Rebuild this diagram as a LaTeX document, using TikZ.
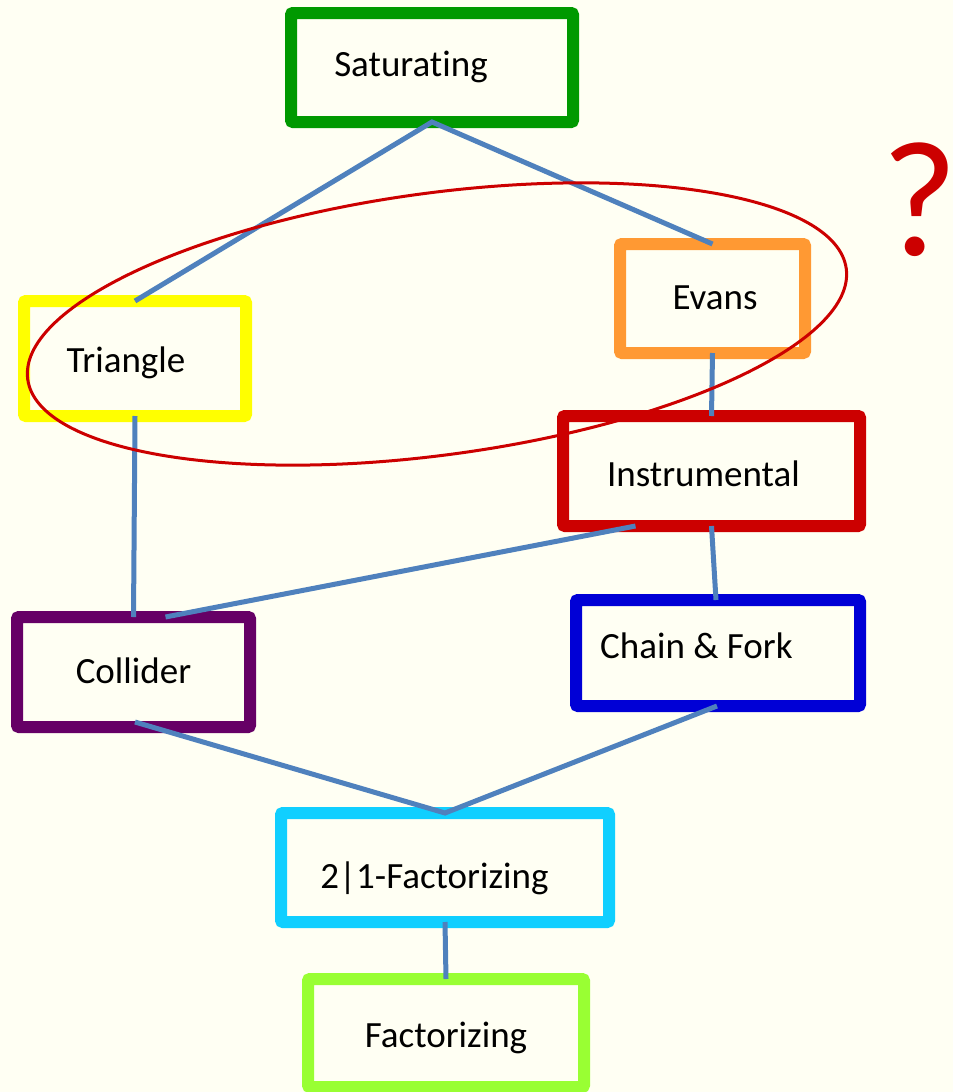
\documentclass[tikz,border=0pt]{standalone}
\usepackage{fontspec}
\setmainfont{Carlito}[Ligatures={NoCommon}]
\usetikzlibrary{calc}

\definecolor{paper}{RGB}{255,255,243}
\definecolor{satgreen}{RGB}{0,153,0}
\definecolor{triyellow}{RGB}{255,255,0}
\definecolor{evorange}{RGB}{255,153,51}
\definecolor{insred}{RGB}{204,0,0}
\definecolor{cfblue}{RGB}{0,0,214}
\definecolor{colpurple}{RGB}{102,0,102}
\definecolor{twocyan}{RGB}{16,207,255}
\definecolor{faclime}{RGB}{153,255,51}
\definecolor{linkblue}{RGB}{79,129,189}
\definecolor{ringred}{RGB}{204,0,0}

\begin{document}
\begin{tikzpicture}[x=1pt,y=-1pt,
  box/.style={draw, line width=12pt, rounded corners=2pt, inner sep=0pt,
    outer sep=0pt, text depth=0pt, anchor=center,
    font=\fontsize{37}{44}\selectfont},
  link/.style={draw=linkblue, line width=5pt},
  ring/.style={draw=ringred, line width=3pt}]

  % page
  \fill[paper] (0,0) rectangle (953,1092);
  \useasboundingbox (0,0) rectangle (953,1092);

  % boxes
  \node[box, draw=satgreen, minimum width=282pt, minimum height=109pt,
        text height=18pt] (sat) at (432,67.5) {Saturating\hspace*{42pt}};
  \node[box, draw=triyellow, minimum width=222pt, minimum height=115pt,
        text height=27pt] (tri) at (135,358.5) {Triangle\hspace*{18pt}};
  \node[box, draw=evorange, minimum width=185pt, minimum height=109pt,
        text height=21pt] (eva) at (712.5,298.5) {\hspace*{5pt}Evans};
  \node[box, draw=insred, minimum width=297pt, minimum height=110pt,
        text height=30pt] (ins) at (711.5,471) {Instrumental\hspace*{16pt}};
  \node[box, draw=cfblue, minimum width=284pt, minimum height=106pt,
        text height=10pt] (chf) at (718,653) {Chain \& Fork\hspace*{43pt}};
  \node[box, draw=colpurple, minimum width=233pt, minimum height=110pt,
        text height=22pt] (col) at (133.5,672) {Collider};
  \node[box, draw=twocyan, minimum width=328pt, minimum height=109pt,
        text height=41pt] (two) at (445,867.5) {2|1-Factorizing\hspace*{21pt}};
  \node[box, draw=faclime, minimum width=276pt, minimum height=108pt,
        text height=28pt] (fac) at (446,1033) {Factorizing};

  % connectors
  \draw[link] (tri.north) -- (sat.south) -- (eva.north);
  \draw[link] (eva.south) -- (ins.north);
  \draw[link] (tri.south) -- (col.north);
  \draw[link] ($(ins.south)+(-76,0)$) -- ($(col.north)+(32,0)$);
  \draw[link] (ins.south) -- ($(chf.north)+(-2,0)$);
  \draw[link] ($(col.south)+(1.5,-5)$) -- (two.north) -- ($(chf.south)+(-1,0)$);
  \draw[link] (two.south) -- (fac.north);

  % grouping ring round Triangle and Evans
  \coordinate (grp) at (437,324);
  \draw[ring, rotate around={7.7:(grp)}] (grp) ellipse [x radius=413, y radius=131];

  % question mark
  \node[font=\fontsize{165}{165}\selectfont, text=ringred, anchor=base,
        inner sep=0pt] (qm) at (920,255) {\makebox[52pt][c]{?}};
\end{tikzpicture}
\end{document}
